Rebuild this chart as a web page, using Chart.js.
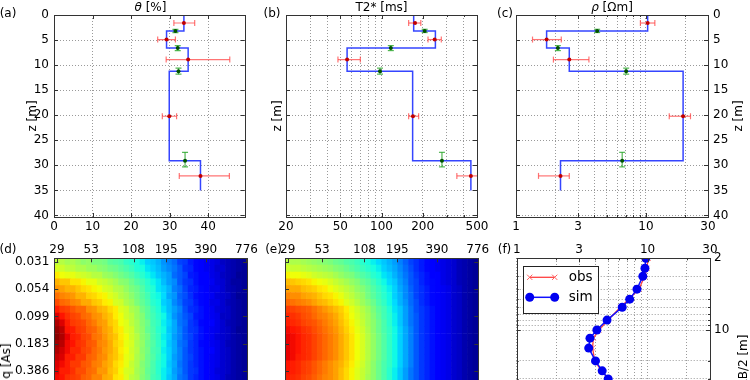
<!DOCTYPE html>
<html><head><meta charset="utf-8">
<script src="https://cdn.jsdelivr.net/npm/chart.js"></script>
<style>
html,body{margin:0;padding:0;background:#fff;width:750px;height:380px;overflow:hidden;font-family:"DejaVu Sans",sans-serif;}
canvas{position:absolute;}
.t{position:absolute;font-size:12px;color:#000;white-space:nowrap;line-height:1;transform:translate(-50%,-50%);font-family:"DejaVu Sans",sans-serif;}
.r{transform:translate(-50%,-50%) rotate(-90deg);}
</style></head><body>
<canvas id="ca" width="250" height="240" style="left:0;top:0;width:250px;height:240px"></canvas>
<canvas id="cb" width="250" height="240" style="left:250px;top:0;width:250px;height:240px"></canvas>
<canvas id="cc" width="250" height="240" style="left:500px;top:0;width:250px;height:240px"></canvas>
<canvas id="cd" width="265" height="240" style="left:0;top:230px;width:265px;height:240px"></canvas>
<canvas id="ce" width="250" height="240" style="left:250px;top:230px;width:250px;height:240px"></canvas>
<canvas id="cf" width="250" height="240" style="left:500px;top:230px;width:250px;height:240px"></canvas>

<div class="t" style="left:150.5px;top:7px"><i>θ</i> [%]</div>
<div class="t" style="left:381.5px;top:7px">T2* [ms]</div>
<div class="t" style="left:612px;top:7px"><i>ρ</i> [Ωm]</div>
<div class="t" style="left:8px;top:12.5px">(a)</div>
<div class="t" style="left:272px;top:12.5px">(b)</div>
<div class="t" style="left:505px;top:12.5px">(c)</div>
<div class="t" style="left:8px;top:249px">(d)</div>
<div class="t" style="left:273.5px;top:248.5px">(e)</div>
<div class="t" style="left:504.5px;top:248.5px">(f)</div>
<div class="t r" style="left:31.7px;top:116px">z [m]</div>
<div class="t r" style="left:276.7px;top:116px">z [m]</div>
<div class="t r" style="left:738.3px;top:116px">z [m]</div>
<div class="t r" style="left:5.5px;top:361px">q [As]</div>
<div class="t r" style="left:743px;top:361px">AB/2 [m]</div>

<script>
// ---------- data ----------
const layerBounds = [0, 3.2, 6.6, 11.2, 29.1, 35];
const thetaModel = [33.7, 29.2, 34.8, 29.9, 38.0];
const t2Model = [172, 248, 56, 169, 451];
const rhoModel = [10.3, 1.72, 2.57, 19.3, 2.2];

const obsDepth = [1.6, 4.9, 8.9, 20.2, 32.1];
const thetaObs = [33.7, 29.2, 34.8, 29.9, 38.0];
const thetaObsLo = [31.1, 26.9, 29.1, 28.1, 32.5];
const thetaObsHi = [36.5, 31.5, 45.6, 31.8, 45.5];
const t2Obs = [176, 245, 56, 170, 451];
const t2ObsLo = [158, 219, 48, 158, 356];
const t2ObsHi = [194, 274, 70, 187, 505];
const rhoObs = [10.3, 1.72, 2.57, 19.3, 2.2];
const rhoObsLo = [9.06, 1.34, 1.94, 15.1, 1.49];
const rhoObsHi = [11.7, 2.23, 3.64, 22.0, 2.57];

const bndDepth = [3.2, 6.6, 11.2, 29.1];
const bndDepthLo = [2.85, 6.1, 10.6, 27.4];
const bndDepthHi = [3.5, 7.1, 11.8, 30.3];
const thetaBnd = [31.5, 32.1, 32.3, 34.0];
const t2Bnd = [207, 117, 97.5, 277];
const rhoBnd = [4.21, 2.10, 7.04, 6.56];

const depthTicks = [0, 5, 10, 15, 20, 25, 30, 35, 40];
const thetaTicks = [0, 10, 20, 30, 40];
const t2Grid = [20, 30, 40, 50, 60, 70, 80, 90, 100, 200, 300, 400, 500];
const t2Labels = [20, 50, 100, 200, 500];
const rhoGrid = [1, 2, 3, 4, 5, 6, 7, 8, 9, 10, 20, 30];
const rhoLabels = [1, 3, 10, 30];

const abHalf = [2, 2.5, 3, 4, 5, 6, 8, 10, 12, 15, 20, 25, 30];
const rhoaObs = [10.1, 9.9, 9.5, 8.6, 7.2, 6.2, 5.0, 4.25, 3.85, 3.8, 3.95, 4.45, 5.05];
const rhoaSim = [9.7, 9.55, 9.2, 8.3, 7.3, 6.4, 4.9, 4.1, 3.63, 3.55, 4.0, 4.5, 5.0];
const abGrid = [2, 3, 4, 5, 6, 7, 8, 9, 10, 20, 30, 40, 50, 60, 70, 80, 90, 100, 200];
const abLabels = [2, 10, 100];

const gateTickCols = [0, 6.4, 14.3, 20.4, 27.8, 35.4];
const gateTickLabels = ['29', '53', '108', '195', '390', '776'];
const qTickRows = [0, 4, 8, 12, 16];
const qTickLabels = ['0.031', '0.054', '0.099', '0.183', '0.386'];

// observed data cube (d), rows = pulse moments, cols = time gates, values in % of colour range
const heatObs = [
[58,57,55,56,54,52,53,50,50,49,46,45,44,41,40,38,36,33,32,30,27,25,23,19,18,15,13,12,10,9,8,6,5,4,3,2],
[61,60,58,58,56,56,54,54,52,51,49,48,46,44,42,39,38,35,33,31,28,26,24,21,17,16,13,11,10,9,7,7,5,4,3,2],
[66,64,63,63,61,60,59,57,57,54,53,51,49,47,45,42,40,37,35,32,30,28,23,21,19,15,14,12,11,9,8,6,5,4,2,2],
[72,70,70,67,67,65,63,63,60,59,57,55,52,51,48,45,43,40,37,35,31,28,26,21,18,17,14,12,11,10,8,7,5,3,3,2],
[75,74,72,72,70,68,67,65,64,61,60,57,56,53,50,48,45,41,39,35,33,30,25,23,19,16,15,13,11,9,9,7,5,4,3,2],
[79,77,76,75,72,72,69,68,66,65,62,60,57,55,52,49,46,43,39,37,34,29,27,22,20,17,14,13,12,10,8,7,6,4,2,2],
[83,80,79,77,76,73,73,70,69,66,65,61,60,56,54,50,47,44,40,38,33,31,26,23,19,18,15,13,11,9,9,7,5,4,3,2],
[88,85,84,82,80,80,76,75,72,71,68,66,62,60,56,54,49,46,42,39,35,31,28,25,20,17,16,14,12,10,8,7,6,4,3,2],
[92,89,86,84,83,80,79,76,75,72,70,66,64,60,58,54,51,46,43,40,37,32,27,24,21,19,15,14,12,10,9,6,6,4,3,2],
[96,92,88,85,84,83,80,78,75,74,70,68,64,62,58,55,51,48,43,41,36,33,29,24,22,18,16,13,12,11,9,7,5,4,3,2],
[98,95,89,88,85,84,81,80,77,74,72,68,66,62,60,55,52,47,44,40,37,32,29,25,21,18,17,14,11,10,9,7,6,4,2,2],
[99,96,91,88,87,84,83,79,78,75,72,70,66,64,60,57,52,49,44,41,36,33,28,25,21,19,16,14,12,10,8,7,6,4,3,2],
[97,95,90,89,86,85,82,81,77,76,73,69,67,63,61,56,53,48,45,41,37,32,29,24,22,18,16,13,12,10,9,7,5,4,3,2],
[96,93,90,87,87,84,83,80,78,75,73,70,66,64,60,57,52,49,44,42,36,33,29,25,21,18,16,14,12,11,9,7,6,4,3,2],
[94,92,88,88,85,85,81,80,77,76,72,70,67,63,61,56,53,48,45,41,37,33,28,25,21,19,16,14,12,10,9,7,6,4,3,2],
[92,90,88,85,85,82,81,78,77,74,72,68,66,63,59,56,51,48,44,40,37,32,29,24,21,18,16,14,11,10,9,7,6,4,3,2],
[91,88,88,86,83,83,80,79,75,75,71,69,65,61,60,55,52,47,44,40,36,33,28,25,21,18,17,14,12,10,8,7,6,4,3,2],
[90,89,86,85,84,81,80,77,77,73,72,67,66,62,58,56,51,48,43,41,36,32,29,24,22,18,16,14,12,10,9,7,5,4,3,2],
[89,87,86,84,83,82,79,78,75,74,70,68,64,62,58,54,52,47,43,40,36,32,28,25,21,18,16,14,12,10,9,7,6,4,3,2]
];
// simulated data cube (e)
const heatSim = [
[57,56,56,55,54,53,52,51,50,48,47,45,44,42,40,38,36,34,32,30,28,25,22,19,17,15,13,12,10,9,8,7,5,4,3,2],
[60,59,59,58,57,56,55,54,53,51,50,48,46,44,42,40,38,36,33,31,29,26,23,20,17,15,13,12,10,9,8,7,5,4,3,2],
[65,64,64,63,62,60,59,58,57,55,53,51,50,47,45,43,40,38,35,33,30,27,24,21,18,16,14,12,11,9,8,7,5,4,3,2],
[71,70,69,68,67,65,64,63,61,59,57,55,53,51,48,46,43,40,37,34,32,28,25,21,19,16,14,13,11,9,8,7,5,4,3,2],
[74,73,73,71,70,69,67,66,64,62,60,58,56,53,51,48,45,42,39,36,33,29,26,22,19,17,15,13,11,10,9,7,6,4,3,2],
[77,76,76,74,73,72,70,68,67,65,63,60,58,55,53,49,46,43,40,37,33,30,26,23,19,17,15,13,11,10,9,7,6,4,3,2],
[80,79,78,77,76,74,72,71,69,67,65,62,60,57,54,51,48,44,41,37,34,30,27,23,20,17,15,13,11,10,9,7,6,4,3,2],
[85,84,83,82,81,79,77,75,73,71,69,66,63,60,57,54,50,46,43,39,35,32,28,24,20,18,16,14,12,10,9,7,6,4,3,2],
[87,86,85,83,82,80,78,77,75,73,70,67,64,61,58,55,51,47,43,40,36,32,28,24,21,18,16,14,12,10,9,7,6,4,3,2],
[88,87,86,84,83,82,80,78,76,74,71,68,65,62,59,55,52,48,44,40,36,32,28,24,21,18,16,14,12,10,9,7,6,4,3,2],
[90,89,88,86,85,83,81,79,77,75,72,69,66,63,60,56,52,48,44,41,37,33,29,25,21,18,16,14,12,10,9,7,6,4,3,2],
[91,90,89,87,86,84,82,80,78,76,73,70,67,64,61,57,53,49,45,41,37,33,29,25,21,18,16,14,12,10,9,7,6,4,3,2],
[91,90,89,87,86,84,82,80,78,76,73,70,67,64,61,57,53,49,45,41,37,33,29,25,21,18,16,14,12,10,9,7,6,4,3,2],
[91,90,89,87,86,84,82,80,78,76,73,70,67,64,61,57,53,49,45,41,37,33,29,25,21,18,16,14,12,10,9,7,6,4,3,2],
[91,90,88,87,86,84,82,80,78,76,73,70,67,64,61,57,53,49,45,41,37,33,29,25,21,18,16,14,12,10,9,7,6,4,3,2],
[89,88,87,85,84,82,80,78,76,74,72,69,66,63,60,56,52,48,44,41,37,33,29,25,21,18,16,14,12,10,9,7,6,4,3,2],
[89,88,87,85,84,82,80,78,76,74,71,68,65,62,59,56,52,48,44,40,36,32,28,24,21,18,16,14,12,10,9,7,6,4,3,2],
[88,87,86,84,83,81,79,77,76,74,71,68,65,62,59,55,52,48,44,40,36,32,28,24,21,18,16,14,12,10,9,7,6,4,3,2],
[87,86,85,84,83,81,79,77,75,73,70,67,64,61,58,55,51,47,43,40,36,32,28,24,21,18,16,14,12,10,9,7,6,4,3,2]
];

// ---------- styling helpers ----------
const FONT = {family: 'DejaVu Sans', size: 12};
const BLUE = '#3545ff', RED = 'rgba(255,70,70,0.75)', GREEN = 'rgba(40,165,40,0.8)';
Chart.defaults.animation = false;
Chart.defaults.events = [];
Chart.defaults.font.family = 'DejaVu Sans';
Chart.defaults.color = '#000';

function jetPart(pts, v) {
  for (let i = 1; i < pts.length; i++) {
    if (v <= pts[i][0]) {
      const [x0, y0] = pts[i - 1], [x1, y1] = pts[i];
      return y0 + (y1 - y0) * (v - x0) / (x1 - x0);
    }
  }
  return pts[pts.length - 1][1];
}
const JR = [[0,0],[0.35,0],[0.66,1],[0.89,1],[1,0.5]];
const JG = [[0,0],[0.125,0],[0.375,1],[0.64,1],[0.91,0],[1,0]];
const JB = [[0,0.5],[0.11,1],[0.34,1],[0.65,0],[1,0]];
function jet(v) {
  v = Math.max(0, Math.min(1, v));
  return `rgb(${Math.round(255*jetPart(JR,v))},${Math.round(255*jetPart(JG,v))},${Math.round(255*jetPart(JB,v))})`;
}

function axis(o) {
  return {
    type: o.type, position: o.position, min: o.min, max: o.max, reverse: !!o.reverse, offset: false,
    afterBuildTicks: s => { s.ticks = o.ticks.map(v => ({value: v})); },
    afterFit: s => {
      if (s.isHorizontal()) { s.height = o.size; s.paddingLeft = 0; s.paddingRight = 0; }
      else { s.width = o.size; s.paddingTop = 0; s.paddingBottom = 0; }
    },
    grid: o.grid === false ? {display: false, drawTicks: false} : {color: '#9a9a9a', lineWidth: 1, drawTicks: false},
    border: {display: false, dash: [1, 2]},
    ticks: {
      display: o.showLabels !== false, autoSkip: false, maxRotation: 0, minRotation: 0,
      padding: o.pad || 0, color: '#000', font: FONT,
      callback: (v) => {
        const i = o.labelVals ? o.labelVals.indexOf(v) : -1;
        return i >= 0 ? (o.labelText ? o.labelText[i] : String(v)) : '';
      }
    }
  };
}

const frameTicks = {
  id: 'frameTicks',
  afterDatasetsDraw(chart, args, opts) {
    const {ctx, chartArea: a} = chart;
    ctx.save();
    ctx.strokeStyle = '#333';
    ctx.lineWidth = 1;
    ctx.beginPath();
    Object.values(chart.scales).forEach(s => {
      const majors = opts.major ? opts.major[s.id] : null;
      s.ticks.forEach(t => {
        const len = (!majors || majors.includes(t.value)) ? 4 : 2;
        const p = Math.round(s.getPixelForValue(t.value)) + 0.5;
        if (s.isHorizontal()) {
          ctx.moveTo(p, a.top); ctx.lineTo(p, a.top + len);
          ctx.moveTo(p, a.bottom); ctx.lineTo(p, a.bottom - len);
        } else {
          ctx.moveTo(a.left, p); ctx.lineTo(a.left + len, p);
          ctx.moveTo(a.right, p); ctx.lineTo(a.right - len, p);
        }
      });
    });
    ctx.stroke();
    ctx.strokeRect(Math.round(a.left) + 0.5, Math.round(a.top) + 0.5, Math.round(a.right - a.left), Math.round(a.bottom - a.top));
    ctx.restore();
  }
};

const boxLegend = {
  id: 'boxLegend',
  afterDatasetsDraw(chart, args, opts) {
    if (!opts || !opts.enabled) return;
    const {ctx, chartArea: a} = chart;
    const bx = a.left + 6, by = a.top + 8, bw = 75, bh = 47;
    ctx.save();
    ctx.fillStyle = '#fff';
    ctx.fillRect(bx, by, bw, bh);
    ctx.strokeStyle = '#222'; ctx.lineWidth = 1;
    ctx.strokeRect(Math.round(bx) + 0.5, Math.round(by) + 0.5, bw, bh);
    chart.data.datasets.forEach((ds, i) => {
      const y = by + 11 + i * 20, x0 = bx + 7, x1 = bx + 32;
      ctx.strokeStyle = ds.borderColor; ctx.lineWidth = ds.borderWidth;
      ctx.beginPath(); ctx.moveTo(x0, y); ctx.lineTo(x1, y); ctx.stroke();
      [x0, x1].forEach(x => {
        if (ds.pointStyle === 'circle') {
          ctx.fillStyle = ds.pointBackgroundColor;
          ctx.beginPath(); ctx.arc(x, y, ds.pointRadius, 0, Math.PI * 2); ctx.fill();
        } else {
          const r = ds.pointRadius * 0.75;
          ctx.strokeStyle = ds.pointBorderColor; ctx.lineWidth = 1;
          ctx.beginPath(); ctx.moveTo(x - r, y - r); ctx.lineTo(x + r, y + r);
          ctx.moveTo(x - r, y + r); ctx.lineTo(x + r, y - r); ctx.stroke();
        }
      });
      ctx.fillStyle = '#000';
      ctx.font = '13.5px "DejaVu Sans"';
      ctx.textBaseline = 'middle';
      ctx.fillText(ds.label, bx + 46, y);
    });
    ctx.restore();
  }
};
Chart.register(frameTicks, boxLegend);

function stepPts(vals) {
  const pts = [];
  vals.forEach((v, i) => { pts.push({x: v, y: layerBounds[i]}); pts.push({x: v, y: layerBounds[i + 1]}); });
  return pts;
}

function profileSets(model, obs, lo, hi, bnd) {
  const sets = [];
  sets.push({label: 'obs', data: obsDepth.map((z, i) => ({x: obs[i], y: z})), pointRadius: 2,
    pointBackgroundColor: '#c00000', pointBorderColor: '#c00000', pointBorderWidth: 0, order: 0});
  sets.push({label: 'bnd', data: bndDepth.map((z, i) => ({x: bnd[i], y: z})), pointRadius: 2,
    pointBackgroundColor: '#005000', pointBorderColor: '#005000', pointBorderWidth: 0, order: 0});
  obsDepth.forEach((z, i) => sets.push({data: [{x: lo[i], y: z}, {x: hi[i], y: z}], showLine: true,
    borderColor: RED, borderWidth: 1.2, pointStyle: 'line', rotation: 90, pointRadius: 3,
    pointBorderColor: RED, pointBorderWidth: 1.2, order: 1}));
  bndDepth.forEach((z, i) => sets.push({data: [{x: bnd[i], y: bndDepthLo[i]}, {x: bnd[i], y: bndDepthHi[i]}], showLine: true,
    borderColor: GREEN, borderWidth: 1.2, pointStyle: 'line', rotation: 0, pointRadius: 3,
    pointBorderColor: GREEN, pointBorderWidth: 1.2, order: 1}));
  sets.push({label: 'model', data: stepPts(model), showLine: true, borderColor: BLUE, borderWidth: 1.5, pointRadius: 0, order: 2});
  return sets;
}

function baseOptions(padding, scales, plugins) {
  return {
    responsive: false, maintainAspectRatio: false, devicePixelRatio: 1,
    layout: {padding},
    scales,
    plugins: Object.assign({legend: {display: false}, tooltip: {enabled: false}}, plugins || {})
  };
}

const depthAxis = (pos, size, show, pad) => axis({type: 'linear', position: pos, min: 0, max: 40.3, reverse: true,
  ticks: depthTicks, labelVals: depthTicks, size, showLabels: show, pad});

// (a)
new Chart(document.getElementById('ca'), {
  type: 'scatter',
  data: {datasets: profileSets(thetaModel, thetaObs, thetaObsLo, thetaObsHi, thetaBnd)},
  options: baseOptions({top: 15, right: 3, left: 0, bottom: 0}, {
    x: axis({type: 'linear', position: 'bottom', min: 0, max: 49.5, ticks: thetaTicks, labelVals: thetaTicks, size: 23, pad: 3}),
    y: depthAxis('left', 54, true, 5)
  })
});
// (b)
new Chart(document.getElementById('cb'), {
  type: 'scatter',
  data: {datasets: profileSets(t2Model, t2Obs, t2ObsLo, t2ObsHi, t2Bnd)},
  options: baseOptions({top: 15, right: 23, left: 0, bottom: 0}, {
    x: axis({type: 'logarithmic', position: 'bottom', min: 20, max: 500, ticks: t2Grid, labelVals: t2Labels, size: 23, pad: 3}),
    y: depthAxis('left', 36, false, 5)
  }, {frameTicks: {major: {x: t2Labels}}})
});
// (c)
new Chart(document.getElementById('cc'), {
  type: 'scatter',
  data: {datasets: profileSets(rhoModel, rhoObs, rhoObsLo, rhoObsHi, rhoBnd)},
  options: baseOptions({top: 15, right: 0, left: 16, bottom: 0}, {
    x: axis({type: 'logarithmic', position: 'bottom', min: 1, max: 30, ticks: rhoGrid, labelVals: rhoLabels, size: 23, pad: 3}),
    y: depthAxis('right', 42, true, 5)
  }, {frameTicks: {major: {x: rhoLabels}}})
});

// heatmaps
function heatDataset(grid) {
  const pts = [], cols = [];
  grid.forEach((row, r) => row.forEach((v, c) => {
    pts.push({x: c, y: [r - 0.5, r + 0.5]});
    cols.push(jet(v / 100));
  }));
  return {data: pts, backgroundColor: cols, borderWidth: 0, barPercentage: 1, categoryPercentage: 1, grouped: false};
}
function heatChart(id, grid, padding, leftSize, showY) {
  return new Chart(document.getElementById(id), {
    type: 'bar',
    data: {datasets: [heatDataset(grid)]},
    options: baseOptions(padding, {
      x: axis({type: 'linear', position: 'top', min: -0.5, max: 35.5, ticks: gateTickCols, labelVals: gateTickCols,
        labelText: gateTickLabels, size: 28.3, grid: false, showLabels: true, pad: 1}),
      y: axis({type: 'linear', position: 'left', min: -0.5, max: 29.5, reverse: true, ticks: qTickRows, labelVals: qTickRows,
        labelText: qTickLabels, size: leftSize, grid: false, showLabels: showY, pad: 5})
    })
  });
}
heatChart('cd', heatObs, {top: 0, right: 18, left: 0, bottom: 6.5}, 54.3, true);
heatChart('ce', heatSim, {top: 0, right: 21.7, left: 0, bottom: 6.5}, 35, false);

// (f) sounding curve
new Chart(document.getElementById('cf'), {
  type: 'scatter',
  data: {datasets: [
    {label: 'obs', data: abHalf.map((a, i) => ({x: rhoaObs[i], y: a})), showLine: true, borderColor: '#ff4040', borderWidth: 1.3,
      pointStyle: 'crossRot', pointRadius: 3.5, pointBackgroundColor: '#ff4040', pointBorderColor: '#ff6060', pointBorderWidth: 1, order: 1},
    {label: 'sim', data: abHalf.map((a, i) => ({x: rhoaSim[i], y: a})), showLine: true, borderColor: '#1010ff', borderWidth: 1.5,
      pointStyle: 'circle', pointRadius: 4.5, pointBackgroundColor: '#0000f0', pointBorderColor: '#0000f0', pointBorderWidth: 0, order: 0}
  ]},
  options: baseOptions({top: 0, right: 0, left: 16.7, bottom: 6.5}, {
    x: axis({type: 'logarithmic', position: 'top', min: 1, max: 30, ticks: rhoGrid, labelVals: rhoLabels, size: 28.3, pad: 1}),
    y: axis({type: 'logarithmic', position: 'right', min: 2, max: 200, reverse: true, ticks: abGrid, labelVals: abLabels, size: 40, pad: 4})
  }, {frameTicks: {major: {x: rhoLabels, y: abLabels}}, boxLegend: {enabled: true}})
});
</script>
</body></html>
